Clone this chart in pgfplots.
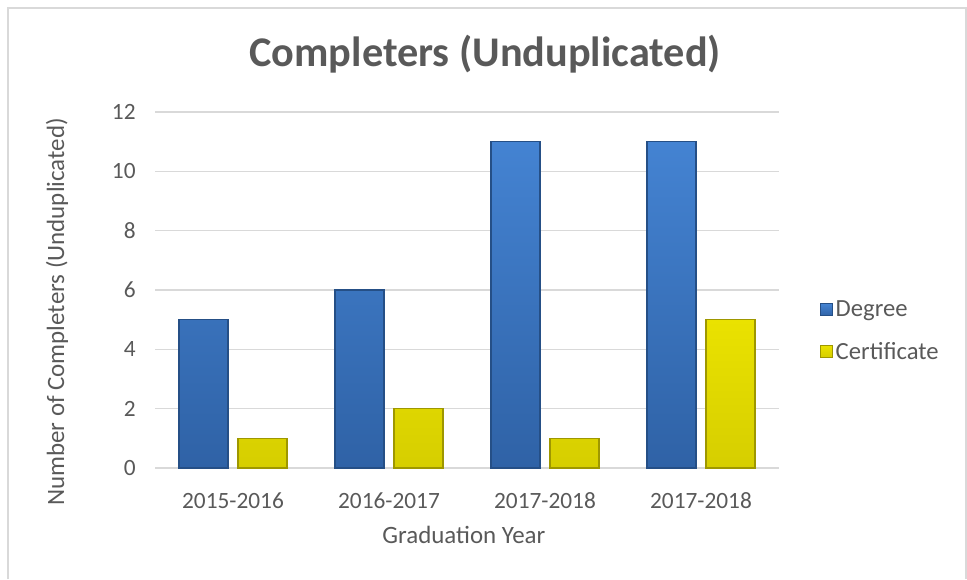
\documentclass[border=0pt]{standalone}
\usepackage{fontspec}
\setmainfont{Carlito}
\usepackage{pgfplots}
\pgfplotsset{compat=1.18}
\definecolor{txt}{HTML}{595959}
\definecolor{gridc}{HTML}{D9D9D9}
\definecolor{blueT}{HTML}{4483D2}
\definecolor{blueB}{HTML}{2F62A6}
\definecolor{blueE}{HTML}{254F86}
\definecolor{yelT}{HTML}{EAE200}
\definecolor{yelB}{HTML}{D6CE00}
\definecolor{yelE}{HTML}{9E9700}
\newcommand\lblfont{\fontsize{17.5}{21}\selectfont}
\newcommand\ttlfont{\fontsize{18.7}{22}\selectfont}
\begin{document}
\begin{tikzpicture}[x=0.75pt,y=0.75pt]
\useasboundingbox (0,0) rectangle (967,579);
\draw[gridc, line width=1.5pt] (8,0) -- (8,571) -- (966,571) -- (966,0);
\begin{axis}[
  at={(116.25pt,83.25pt)}, anchor=south west,
  scale only axis, width=468pt, height=267pt,
  ybar=7.5pt, bar width=36.75pt,
  xmin=-0.5, xmax=3.5, ymin=0, ymax=12,
  xtick={0,1,2,3}, xticklabels={2015-2016,2016-2017,2017-2018,2017-2018},
  ytick={0,2,...,12},
  ymajorgrids, grid style={gridc, line width=1pt},
  axis x line*=bottom, axis y line*=left,
  x axis line style={gridc, line width=1.2pt, -},
  y axis line style={draw=none},
  tick style={draw=none},
  /pgf/number format/assume math mode=true,
  tick label style={font=\lblfont, color=txt},
  xticklabel style={yshift=-10.5pt},
  yticklabel style={xshift=-11pt},
  xlabel={Graduation Year},
  xlabel style={at={(axis description cs:0.495,-0.2107)}, anchor=base, font=\ttlfont, color=txt},
  ylabel={Number of Completers (Unduplicated)},
  ylabel style={at={(axis description cs:-0.157,0.438)}, anchor=center, font=\ttlfont, color=txt},
  every axis title shift=0pt,
  title={Completers (Unduplicated)},
  title style={at={(axis description cs:0.529,1.1264)}, anchor=base, font=\bfseries\fontsize{31.7}{36}\selectfont, color=txt},
  legend style={at={(axis description cs:1.0595,0.385)}, anchor=west, draw=none, fill=none, font=\fontsize{18.5}{22}\selectfont, text=txt, row sep=13.5pt},
  legend cell align=left,
  legend image code/.code={\draw[#1, line width=0.5pt] (0pt,-4.5pt) rectangle (9pt,4.5pt);},
]
\addplot[draw=blueE, line width=0.8pt, top color=blueT, bottom color=blueB] coordinates {(0,5) (1,6) (2,11) (3,11)};
\addplot[draw=yelE, line width=0.8pt, top color=yelT, bottom color=yelB] coordinates {(0,1) (1,2) (2,1) (3,5)};
\legend{Degree, Certificate}
\end{axis}
\end{tikzpicture}
\end{document}
